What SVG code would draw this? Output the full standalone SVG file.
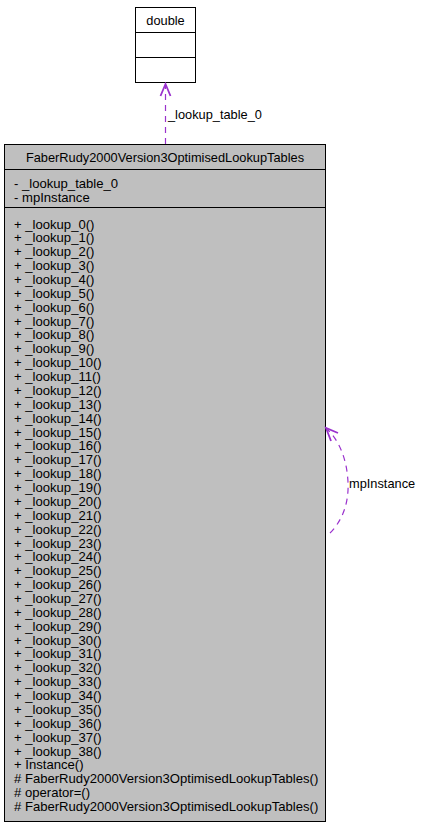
<svg xmlns="http://www.w3.org/2000/svg" width="423" height="827" viewBox="0 0 423 827">
<style>
text{font-family:"Liberation Sans",Arial,Helvetica,sans-serif;font-size:12.8px;fill:#000}
.m{font-size:13.1px}
.box{fill:#bfbfbf;stroke:#000;stroke-width:1}
.wbox{fill:#fff;stroke:#000;stroke-width:1}
.sep{stroke:#000;stroke-width:1}
.edge{fill:none;stroke:#9a32cd;stroke-width:1.2;stroke-dasharray:6,5}
.head{fill:none;stroke:#9a32cd;stroke-width:1.8}
.mid{text-anchor:middle}
</style>
<rect width="423" height="827" fill="#fff"/>
<g id="node-double">
<rect class="wbox" x="135.5" y="7.5" width="60" height="75"/>
<line class="sep" x1="135.5" y1="32.5" x2="195.5" y2="32.5"/>
<line class="sep" x1="135.5" y1="57.5" x2="195.5" y2="57.5"/>
<text class="mid" x="165.5" y="24.5">double</text>
</g>
<g id="node-main">
<rect class="box" x="4.5" y="144.5" width="321" height="677"/>
<line class="sep" x1="4.5" y1="169.5" x2="325.5" y2="169.5"/>
<line class="sep" x1="4.5" y1="207.5" x2="325.5" y2="207.5"/>
<text class="mid" x="165" y="161.5">FaberRudy2000Version3OptimisedLookupTables</text>
<g class="m">
<text class="m" x="14" y="188">- _lookup_table_0</text>
<text class="m" x="14" y="201.5">- mpInstance</text>
<text class="m" x="14" y="228.5">+ _lookup_0()</text>
<text class="m" x="14" y="242.37">+ _lookup_1()</text>
<text class="m" x="14" y="256.24">+ _lookup_2()</text>
<text class="m" x="14" y="270.11">+ _lookup_3()</text>
<text class="m" x="14" y="283.98">+ _lookup_4()</text>
<text class="m" x="14" y="297.85">+ _lookup_5()</text>
<text class="m" x="14" y="311.72">+ _lookup_6()</text>
<text class="m" x="14" y="325.59">+ _lookup_7()</text>
<text class="m" x="14" y="339.46">+ _lookup_8()</text>
<text class="m" x="14" y="353.33">+ _lookup_9()</text>
<text class="m" x="14" y="367.2">+ _lookup_10()</text>
<text class="m" x="14" y="381.07">+ _lookup_11()</text>
<text class="m" x="14" y="394.94">+ _lookup_12()</text>
<text class="m" x="14" y="408.81">+ _lookup_13()</text>
<text class="m" x="14" y="422.68">+ _lookup_14()</text>
<text class="m" x="14" y="436.55">+ _lookup_15()</text>
<text class="m" x="14" y="450.42">+ _lookup_16()</text>
<text class="m" x="14" y="464.29">+ _lookup_17()</text>
<text class="m" x="14" y="478.16">+ _lookup_18()</text>
<text class="m" x="14" y="492.03">+ _lookup_19()</text>
<text class="m" x="14" y="505.9">+ _lookup_20()</text>
<text class="m" x="14" y="519.77">+ _lookup_21()</text>
<text class="m" x="14" y="533.64">+ _lookup_22()</text>
<text class="m" x="14" y="547.51">+ _lookup_23()</text>
<text class="m" x="14" y="561.38">+ _lookup_24()</text>
<text class="m" x="14" y="575.25">+ _lookup_25()</text>
<text class="m" x="14" y="589.12">+ _lookup_26()</text>
<text class="m" x="14" y="602.99">+ _lookup_27()</text>
<text class="m" x="14" y="616.86">+ _lookup_28()</text>
<text class="m" x="14" y="630.73">+ _lookup_29()</text>
<text class="m" x="14" y="644.6">+ _lookup_30()</text>
<text class="m" x="14" y="658.47">+ _lookup_31()</text>
<text class="m" x="14" y="672.34">+ _lookup_32()</text>
<text class="m" x="14" y="686.21">+ _lookup_33()</text>
<text class="m" x="14" y="700.08">+ _lookup_34()</text>
<text class="m" x="14" y="713.95">+ _lookup_35()</text>
<text class="m" x="14" y="727.82">+ _lookup_36()</text>
<text class="m" x="14" y="741.69">+ _lookup_37()</text>
<text class="m" x="14" y="755.56">+ _lookup_38()</text>
<text class="m" x="14" y="769.43">+ Instance()</text>
<text class="m" x="14" y="783.3"># FaberRudy2000Version3OptimisedLookupTables()</text>
<text class="m" x="14" y="797.17"># operator=()</text>
<text class="m" x="14" y="811.04"># FaberRudy2000Version3OptimisedLookupTables()</text>
</g>
</g>
<g id="connectors">
<path class="edge" d="M165.5,144 L165.5,86"/>
<path class="head" d="M160.5,96 L165.5,84 L170.5,96"/>
<text x="168" y="119">_lookup_table_0</text>
<path class="edge" d="M330,533 C343,520 349,502 348,482 C347,462 341,443 328,430"/>
<path class="head" d="M338,433 L326,428 L331,441"/>
<text x="349" y="488">mpInstance</text>
</g>
</svg>
